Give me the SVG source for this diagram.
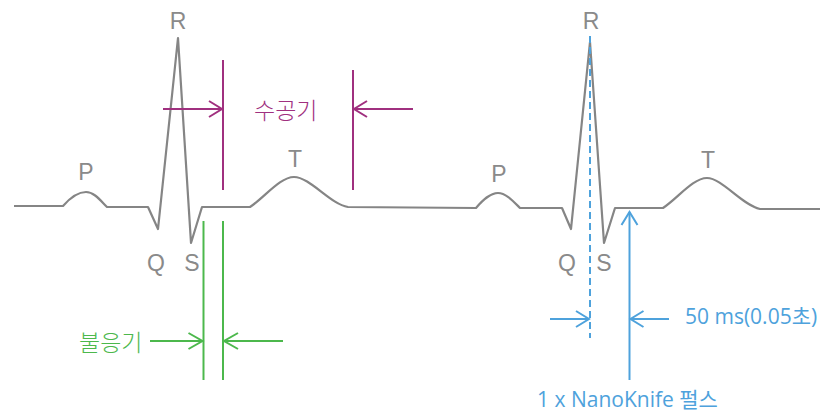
<svg xmlns="http://www.w3.org/2000/svg" width="820" height="415" viewBox="0 0 820 415">
<style>
.ecg{fill:none;stroke:#858585;stroke-width:2.2;stroke-linejoin:round}
.wl{font-family:"Liberation Sans",Arial,sans-serif;font-size:23px;fill:#8a8a8a;text-anchor:middle}
.mg{stroke:#a0307f;stroke-width:2;fill:none}
.gr{stroke:#4cb84c;stroke-width:2;fill:none}
.bl{stroke:#4ea2dc;stroke-width:2;fill:none}
.kt{font-family:"Noto Sans CJK KR","Noto Sans",sans-serif;font-weight:300;font-size:23px}
.bt{font-family:"Open Sans","Noto Sans CJK KR",sans-serif;font-size:21px;fill:#4ea2dc}
</style>
<defs>
<marker id="am" markerUnits="userSpaceOnUse" markerWidth="20" markerHeight="20" refX="0" refY="0" viewBox="-15 -10 17 20" orient="auto"><path d="M-13,-8 L0,0 L-13,8" fill="none" stroke="#a0307f" stroke-width="2"/></marker>
<marker id="ag" markerUnits="userSpaceOnUse" markerWidth="20" markerHeight="20" refX="0" refY="0" viewBox="-15 -10 17 20" orient="auto"><path d="M-14,-8 L0,0 L-14,8" fill="none" stroke="#4cb84c" stroke-width="2"/></marker>
<marker id="ab" markerUnits="userSpaceOnUse" markerWidth="20" markerHeight="20" refX="0" refY="0" viewBox="-15 -10 17 20" orient="auto"><path d="M-13,-8 L0,0 L-13,8" fill="none" stroke="#4ea2dc" stroke-width="2"/></marker>
</defs>
<g id="ecg">
<path class="ecg" d="M14,206 L63,206 C70,198 78,192 86,192 C94,192 100,200 107,207 L148,207 L158,229 L178,38 L191,243 L202,207 L250,207 C265,197 280,177 294,177 C310,177 330,204 348,207 L476,208 C483,200 490,193 498,193 C506,193 513,201 520,208 L562,208 L571,229 L590,42 L604,243 L615,208 L663,208 C678,198 693,178 707,178 C722,178 742,205 760,209 L820,209"/>
</g>
<g id="wave-labels" class="wl">
<text x="86" y="180">P</text>
<text x="178" y="29">R</text>
<text x="156" y="271">Q</text>
<text x="192" y="271">S</text>
<text x="295" y="167">T</text>
<text x="499" y="182">P</text>
<text x="591" y="29">R</text>
<text x="567" y="271">Q</text>
<text x="604" y="271">S</text>
<text x="708" y="168">T</text>
</g>
<g id="connectors">
<line class="mg" x1="223" y1="60" x2="223" y2="190"/>
<line class="mg" x1="353" y1="70" x2="353" y2="190"/>
<line class="mg" x1="163" y1="109" x2="222" y2="109" marker-end="url(#am)"/>
<line class="mg" x1="413" y1="109" x2="354" y2="109" marker-end="url(#am)"/>
<line class="gr" x1="203.5" y1="221" x2="203.5" y2="380"/>
<line class="gr" x1="223" y1="221" x2="223" y2="380"/>
<line class="gr" x1="150" y1="341" x2="202.5" y2="341" marker-end="url(#ag)"/>
<line class="gr" x1="283" y1="341" x2="224" y2="341" marker-end="url(#ag)"/>
<line class="bl" x1="590" y1="36" x2="590" y2="338" stroke-dasharray="7,4"/>
<line class="bl" x1="629.5" y1="380" x2="629.5" y2="212" marker-end="url(#ab)"/>
<line class="bl" x1="550" y1="319" x2="589" y2="319" marker-end="url(#ab)"/>
<line class="bl" x1="669" y1="319" x2="630.5" y2="319" marker-end="url(#ab)"/>
</g>
<g id="label-sugonggi"><text class="kt" x="254" y="119" fill="#a0307f">수공기</text></g>
<g id="label-bulunggi"><text class="kt" x="79" y="351" fill="#4cb84c">불응기</text></g>
<g id="label-50ms"><text class="bt" x="685" y="324">50 ms(0.05초)</text></g>
<g id="label-pulse"><text class="bt" x="537" y="407">1 x NanoKnife 펄스</text></g>
</svg>
